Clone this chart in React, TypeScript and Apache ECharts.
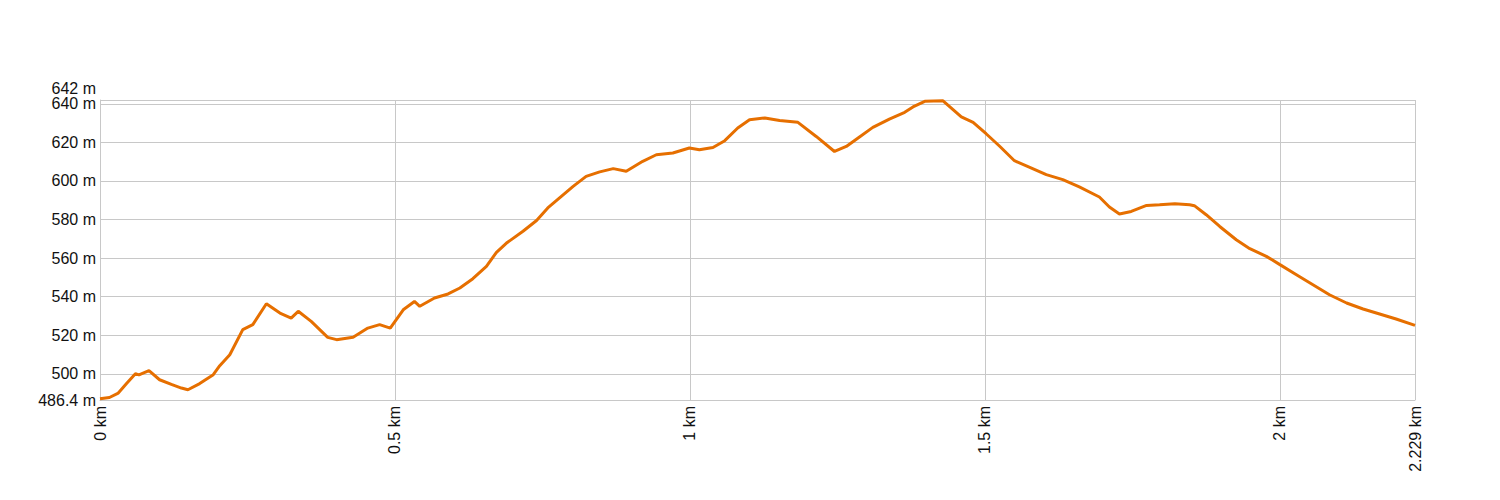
import React, { useEffect, useRef } from 'react';
import * as echarts from 'echarts';

const distKm = [
  0, 0.016, 0.031, 0.045, 0.06, 0.066, 0.083, 0.101, 0.121, 0.138, 0.149, 0.169, 0.192, 0.203, 0.22,
  0.242, 0.259, 0.282, 0.305, 0.324, 0.336, 0.358, 0.386, 0.401, 0.429, 0.454, 0.474, 0.492, 0.514,
  0.533, 0.542, 0.567, 0.59, 0.61, 0.632, 0.655, 0.672, 0.689, 0.717, 0.74, 0.759, 0.782, 0.802,
  0.824, 0.847, 0.87, 0.892, 0.92, 0.943, 0.971, 0.999, 1.016, 1.039, 1.059, 1.081, 1.101, 1.127,
  1.152, 1.183, 1.214, 1.245, 1.265, 1.285, 1.31, 1.338, 1.364, 1.378, 1.398, 1.429, 1.46, 1.48,
  1.502, 1.525, 1.55, 1.576, 1.604, 1.632, 1.66, 1.694, 1.711, 1.728, 1.748, 1.774, 1.796, 1.822,
  1.847, 1.855, 1.875, 1.898, 1.926, 1.949, 1.977, 2.0, 2.028, 2.056, 2.084, 2.113, 2.141, 2.169,
  2.197, 2.229,
];

const elevM = [
  487.0, 487.7, 490.0, 494.9, 500.0, 499.4, 501.6, 496.9, 494.5, 492.6, 491.7, 494.9, 499.5, 504.2, 509.9,
  522.9, 525.5, 536.3, 531.5, 528.9, 532.4, 527.2, 518.9, 517.7, 518.9, 523.7, 525.5, 523.7, 533.2,
  537.5, 535.0, 539.3, 541.4, 544.5, 549.3, 555.7, 563.0, 567.8, 573.9, 579.5, 586.0, 592.0, 597.2,
  602.4, 604.7, 606.4, 605.0, 610.2, 613.6, 614.5, 617.1, 616.2, 617.4, 620.9, 627.5, 631.8, 632.7,
  631.4, 630.4, 623.1, 615.3, 617.9, 622.3, 627.8, 632.1, 635.6, 638.4, 641.3, 641.6, 633.2, 630.4,
  624.5, 618.0, 610.5, 607.1, 603.3, 600.7, 596.9, 591.7, 586.5, 582.9, 584.2, 587.3, 587.7, 588.2,
  587.7, 587.2, 582.5, 576.4, 569.5, 564.9, 560.9, 556.6, 551.4, 546.2, 541.0, 536.7, 533.6, 531.0,
  528.4, 525.1,
];

const yTickValues = [500, 520, 540, 560, 580, 600, 620, 640];
const xTickValues = [0, 0.5, 1, 1.5, 2, 2.229];
const yMin = 486.4;
const yMax = 642;

const LINE_COLOR = '#e66f00';
const GRID_COLOR = '#c8c8c8';
const TEXT_COLOR = '#111';
const FONT = 'Liberation Sans, Arial, sans-serif';

export default function App() {
  const ref = useRef<HTMLDivElement>(null);
  useEffect(() => {
    document.body.style.margin = '0';
    const chart = echarts.init(ref.current!, null, { renderer: 'svg' });
    chart.setOption({
      animation: false,
      grid: { left: 100, top: 100, width: 1315, height: 300, containLabel: false },
      xAxis: {
        type: 'value',
        min: 0,
        max: 2.229,
        axisLine: { show: true, lineStyle: { color: GRID_COLOR, width: 1 } },
        axisTick: { show: false, customValues: xTickValues },
        axisLabel: {
          customValues: xTickValues,
          rotate: 90,
          margin: 6,
          fontSize: 16,
          color: TEXT_COLOR,
          fontFamily: FONT,
          formatter: (v: number) => `${v} km`,
        },
        splitLine: { show: true, lineStyle: { color: GRID_COLOR, width: 1 } },
      },
      yAxis: [
        {
          type: 'value',
          min: yMin,
          max: yMax,
          axisLine: { show: true, lineStyle: { color: GRID_COLOR, width: 1 } },
          axisTick: { show: false, customValues: [yMin, ...yTickValues, yMax] },
          axisLabel: {
            customValues: [yMin, ...yTickValues],
            margin: 4,
            fontSize: 16,
            color: TEXT_COLOR,
            fontFamily: FONT,
            formatter: (v: number) => `${v} m`,
          },
          splitLine: { show: true, lineStyle: { color: GRID_COLOR, width: 1 } },
        },
        {
          type: 'value',
          min: yMin,
          max: yMax,
          position: 'left',
          axisLine: { show: false },
          axisTick: { show: false, customValues: [yMax] },
          axisLabel: {
            customValues: [yMax],
            margin: 4,
            fontSize: 16,
            color: TEXT_COLOR,
            fontFamily: FONT,
            verticalAlign: 'bottom',
            padding: [0, 0, 4, 0],
            formatter: (v: number) => `${v} m`,
          },
          splitLine: { show: false },
        },
      ],
      series: [
        {
          type: 'line',
          data: distKm.map((d, i) => [d, elevM[i]]),
          showSymbol: false,
          symbol: 'none',
          lineStyle: { color: LINE_COLOR, width: 3 },
          itemStyle: { color: LINE_COLOR },
        },
      ],
    });
    return () => chart.dispose();
  }, []);
  return <div ref={ref} style={{ width: 1500, height: 500 }} />;
}
